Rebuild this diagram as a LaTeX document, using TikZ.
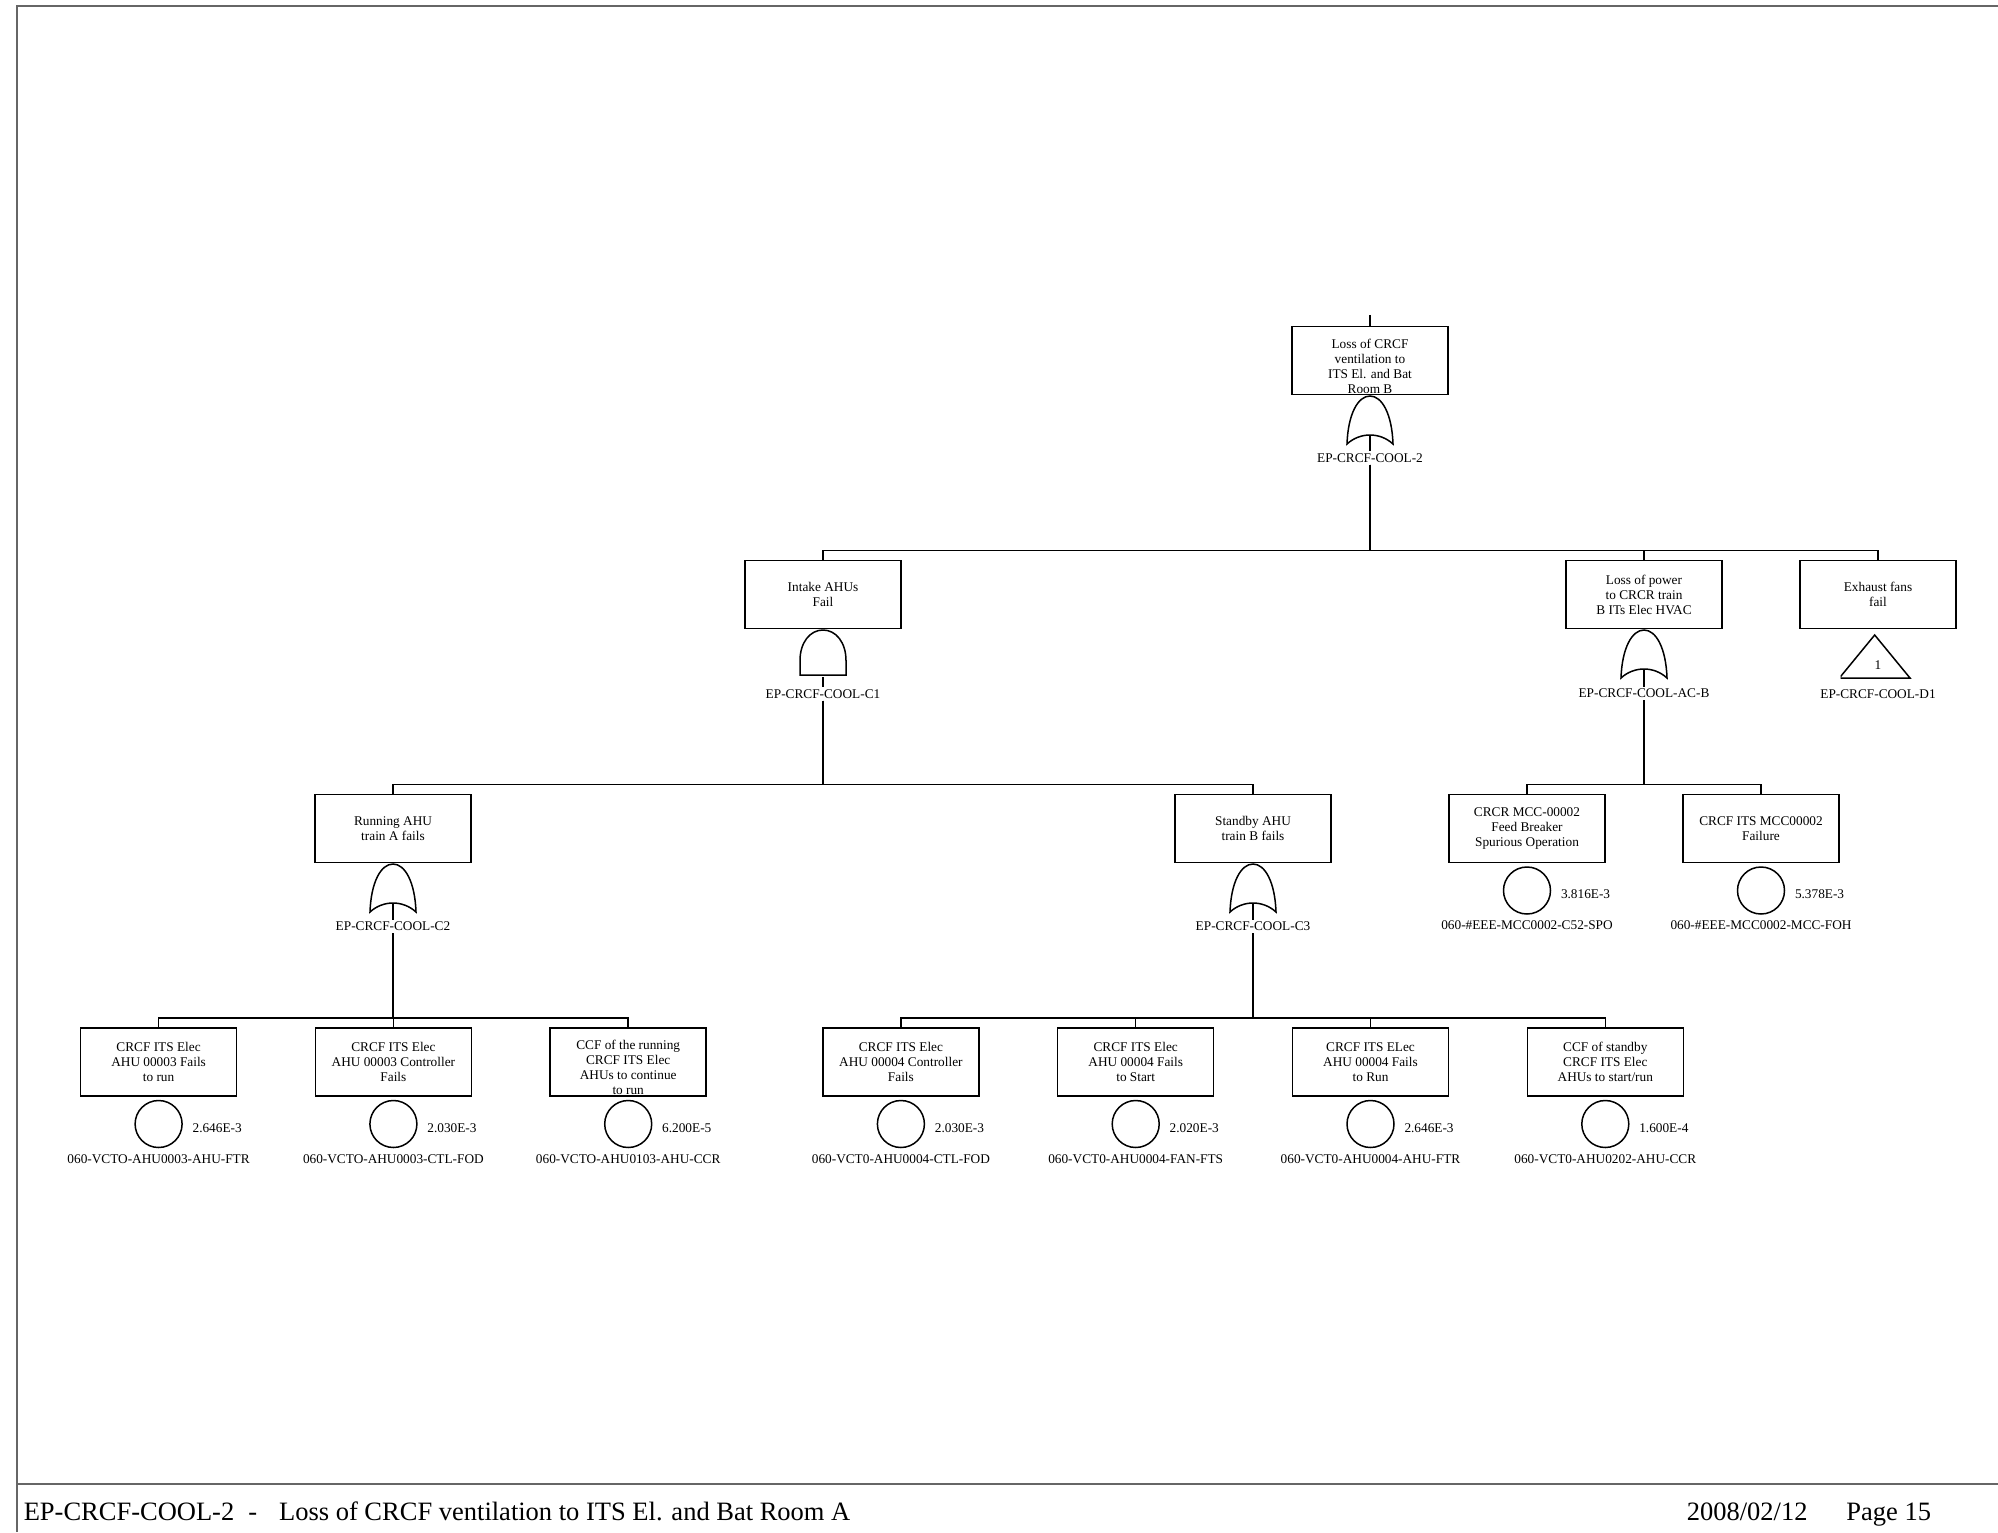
\documentclass[tikz,border=0pt]{standalone}
\usepackage{fontspec}
\setmainfont{Liberation Serif}
\usetikzlibrary{positioning,calc}

\newcommand{\treefont}{\fontsize{13.3pt}{15pt}\selectfont}
\newcommand{\lowtext}[1]{\raisebox{-11pt}[0pt][0pt]{\begin{tabular}{@{}c@{}}#1\end{tabular}}}

\begin{document}
\begin{tikzpicture}[x=1pt, y=-1pt, line width=1.5pt,
    box/.style={draw, rectangle, minimum width=156pt, minimum height=68pt, align=center, font=\treefont, inner sep=0pt},
    orgate/.style={minimum width=49pt, minimum height=51pt, inner sep=0pt, path picture={
        \draw[line width=1.5pt, shift={(path picture bounding box.center)}]
            (-23pt,-24pt) .. controls (-22pt,6pt) and (-12pt,24pt) .. (0pt,24pt)
            .. controls (12pt,24pt) and (22pt,6pt) .. (23pt,-24pt)
            .. controls (10pt,-12pt) and (-10pt,-12pt) .. (-23pt,-24pt) -- cycle;}},
    andgate/.style={minimum width=49pt, minimum height=48pt, inner sep=0pt, path picture={
        \draw[line width=1.5pt, shift={(path picture bounding box.center)}]
            (-23pt,-22.5pt) -- (-23pt,-8pt) .. controls (-23pt,10pt) and (-13pt,22.5pt) .. (0pt,22.5pt)
            .. controls (13pt,22.5pt) and (23pt,10pt) .. (23pt,-8pt) -- (23pt,-22.5pt) -- cycle;}},
    xfer/.style={minimum width=75pt, minimum height=46pt, inner sep=0pt, font=\treefont, path picture={
        \draw[line width=1.5pt, shift={(path picture bounding box.center)}]
            (-35.3pt,-21.5pt) -- (0pt,21.5pt) -- (35.3pt,-21.5pt) -- cycle;}},
    event/.style={draw, circle, minimum size=47pt, inner sep=0pt},
    tag/.style={font=\treefont, inner sep=1.5pt},
    prob/.style={font=\treefont, inner sep=1pt},
    frame/.style={line width=1.2pt, black!60},
    foot/.style={font=\fontsize{26.5pt}{30pt}\selectfont, inner sep=0pt},
]
\useasboundingbox (0,0) rectangle (1998,1532);

% Page frame and footer
\draw[frame] (17,1532) -- (17,6) -- (1998,6);
\draw[frame] (17,1484) -- (1998,1484);
\node[foot, anchor=base west] (fTitle) at (23,1520.5) {EP-CRCF-COOL-2\hspace{14pt}-\hspace{22pt}Loss of CRCF ventilation to ITS El. and Bat Room A};
\node[foot, anchor=base west] (fPage) at (1686,1520.5) {2008/02/12\hspace{39pt}Page 15};

% Top event
\node[box] (top) at (1370,360.5) {\lowtext{Loss of CRCF\\ventilation to\\ITS El. and Bat\\Room B}};
\coordinate[above=11pt of top] (in0);
\node[orgate, below=-1.5pt of top] (gTop) {};
\node[tag, below=5pt of gTop] (lTop) {EP-CRCF-COOL-2};

% Second level
\node[box] (intake) at (823,594.5) {Intake AHUs\\Fail};
\node[andgate, below=-1.5pt of intake] (gIntake) {};
\node[tag, below=10pt of gIntake] (lIntake) {EP-CRCF-COOL-C1};

\node[box] (power) at (1644,594.5) {Loss of power\\to CRCR train\\B ITs Elec HVAC};
\node[orgate, below=-1.5pt of power] (gPower) {};
\node[tag, below=6.5pt of gPower] (lPower) {EP-CRCF-COOL-AC-B};

\node[box] (exhaust) at (1878,594.5) {Exhaust fans\\fail};
\node[xfer, below=3.5pt of exhaust] (tExhaust) {\raisebox{-13pt}[0pt][0pt]{1}};
\node[tag, below=7.5pt of tExhaust] (lExhaust) {EP-CRCF-COOL-D1};

% Third level
\node[box] (runA) at (393,828.5) {Running AHU\\train A fails};
\node[orgate, below=-1.5pt of runA] (gRunA) {};
\node[tag, below=5.5pt of gRunA] (lRunA) {EP-CRCF-COOL-C2};

\node[box] (stbyB) at (1253,828.5) {Standby AHU\\train B fails};
\node[orgate, below=-1.5pt of stbyB] (gStbyB) {};
\node[tag, below=5.5pt of gStbyB] (lStbyB) {EP-CRCF-COOL-C3};

\node[box] (mccBrk) at (1527,828.5) {CRCR MCC-00002\\Feed Breaker\\Spurious Operation};
\node[event, below=3pt of mccBrk] (eMccBrk) {};
\node[prob, right=8pt of eMccBrk, yshift=-4pt] (pMccBrk) {3.816E-3};
\node[tag, below=4pt of eMccBrk] (nMccBrk) {060-\#EEE-MCC0002-C52-SPO};

\node[box] (mccFail) at (1761,828.5) {CRCF ITS MCC00002\\Failure};
\node[event, below=3pt of mccFail] (eMccFail) {};
\node[prob, right=8pt of eMccFail, yshift=-4pt] (pMccFail) {5.378E-3};
\node[tag, below=4pt of eMccFail] (nMccFail) {060-\#EEE-MCC0002-MCC-FOH};

% Basic events, train A
\node[box] (ftr3) at (158.6,1062) {CRCF ITS Elec\\AHU 00003 Fails\\to run};
\node[event, below=3pt of ftr3] (eFtr3) {};
\node[prob, right=8pt of eFtr3, yshift=-4pt] (pFtr3) {2.646E-3};
\node[tag, below=4pt of eFtr3] (nFtr3) {060-VCTO-AHU0003-AHU-FTR};

\node[box] (ctl3) at (393.4,1062) {CRCF ITS Elec\\AHU 00003 Controller\\Fails};
\node[event, below=3pt of ctl3] (eCtl3) {};
\node[prob, right=8pt of eCtl3, yshift=-4pt] (pCtl3) {2.030E-3};
\node[tag, below=4pt of eCtl3] (nCtl3) {060-VCTO-AHU0003-CTL-FOD};

\node[box] (ccfRun) at (628.2,1062) {\lowtext{CCF of the running\\CRCF ITS Elec\\AHUs to continue\\to run}};
\node[event, below=3pt of ccfRun] (eCcfRun) {};
\node[prob, right=8pt of eCcfRun, yshift=-4pt] (pCcfRun) {6.200E-5};
\node[tag, below=4pt of eCcfRun] (nCcfRun) {060-VCTO-AHU0103-AHU-CCR};

% Basic events, train B
\node[box] (ctl4) at (900.9,1062) {CRCF ITS Elec\\AHU 00004 Controller\\Fails};
\node[event, below=3pt of ctl4] (eCtl4) {};
\node[prob, right=8pt of eCtl4, yshift=-4pt] (pCtl4) {2.030E-3};
\node[tag, below=4pt of eCtl4] (nCtl4) {060-VCT0-AHU0004-CTL-FOD};

\node[box] (fts4) at (1135.7,1062) {CRCF ITS Elec\\AHU 00004 Fails\\to Start};
\node[event, below=3pt of fts4] (eFts4) {};
\node[prob, right=8pt of eFts4, yshift=-4pt] (pFts4) {2.020E-3};
\node[tag, below=4pt of eFts4] (nFts4) {060-VCT0-AHU0004-FAN-FTS};

\node[box] (ftr4) at (1370.5,1062) {CRCF ITS ELec\\AHU 00004 Fails\\to Run};
\node[event, below=3pt of ftr4] (eFtr4) {};
\node[prob, right=8pt of eFtr4, yshift=-4pt] (pFtr4) {2.646E-3};
\node[tag, below=4pt of eFtr4] (nFtr4) {060-VCT0-AHU0004-AHU-FTR};

\node[box] (ccfStby) at (1605.3,1062) {CCF of standby\\CRCF ITS Elec\\AHUs to start/run};
\node[event, below=3pt of ccfStby] (eCcfStby) {};
\node[prob, right=8pt of eCcfStby, yshift=-4pt] (pCcfStby) {1.600E-4};
\node[tag, below=4pt of eCcfStby] (nCcfStby) {060-VCT0-AHU0202-AHU-CCR};

% Connectors
\draw (in0) -- (top);
\draw ([yshift=10.5pt]gTop.south) -- (lTop);
\draw (lTop) |- ([yshift=9.5pt]intake.north) -- (intake);
\draw (lTop) |- ([yshift=9.5pt]power.north) -- (power);
\draw (lTop) |- ([yshift=9.5pt]exhaust.north) -- (exhaust);

\draw (gIntake.south) -- (lIntake);
\draw (lIntake) |- ([yshift=9.5pt]runA.north) -- (runA);
\draw (lIntake) |- ([yshift=9.5pt]stbyB.north) -- (stbyB);

\draw ([yshift=10.5pt]gPower.south) -- (lPower);
\draw (lPower) |- ([yshift=9.5pt]mccBrk.north) -- (mccBrk);
\draw (lPower) |- ([yshift=9.5pt]mccFail.north) -- (mccFail);

\draw ([yshift=10.5pt]gRunA.south) -- (lRunA);
\draw (lRunA) |- ([yshift=9.5pt]ftr3.north) -- (ftr3);
\draw (lRunA) |- ([yshift=9.5pt]ctl3.north) -- (ctl3);
\draw (lRunA) |- ([yshift=9.5pt]ccfRun.north) -- (ccfRun);

\draw ([yshift=10.5pt]gStbyB.south) -- (lStbyB);
\draw (lStbyB) |- ([yshift=9.5pt]ctl4.north) -- (ctl4);
\draw (lStbyB) |- ([yshift=9.5pt]fts4.north) -- (fts4);
\draw (lStbyB) |- ([yshift=9.5pt]ftr4.north) -- (ftr4);
\draw (lStbyB) |- ([yshift=9.5pt]ccfStby.north) -- (ccfStby);
\end{tikzpicture}
\end{document}
